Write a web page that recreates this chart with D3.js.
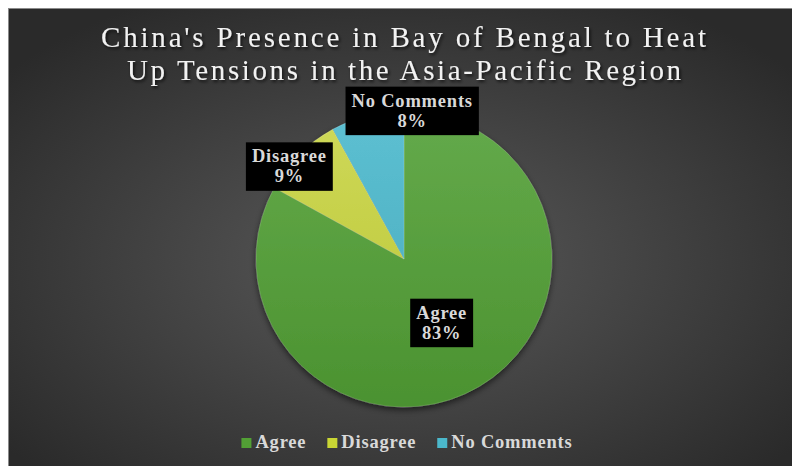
<!DOCTYPE html>
<html>
<head>
<meta charset="utf-8">
<script src="https://cdn.jsdelivr.net/npm/d3@7"></script>
<style>
  html, body { margin: 0; padding: 0; background: #ffffff; }
  svg { display: block; }
</style>
</head>
<body>
<svg id="chart" width="792" height="466"></svg>
<script>
// ---- data ----
const titleLines = ["China's Presence in Bay of Bengal to Heat", "Up Tensions in the Asia-Pacific Region"];
const categories = ["Agree", "Disagree", "No Comments"];
const values = [83, 9, 8];
const colors = ["#52a035", "#c9d634", "#4bb8cb"];
const colorsLight = ["#64aa4b", "#cfd95a", "#5dc0d2"];

const W = 792, H = 466;
const svg = d3.select("#chart");
const defs = svg.append("defs");

// background gradient
const bg = defs.append("radialGradient").attr("id", "bgGrad")
  .attr("cx", "50%").attr("cy", "55%").attr("r", "65%");
bg.append("stop").attr("offset", "0%").attr("stop-color", "#5a5a5a");
bg.append("stop").attr("offset", "100%").attr("stop-color", "#2a2a2a");

svg.append("rect").attr("x", 8.5).attr("y", 8.5).attr("width", W - 8).attr("height", H - 8)
  .attr("fill", "url(#bgGrad)").attr("stroke", "#8a8a8a").attr("stroke-width", 1);

// title with shadow
const tShadow = defs.append("filter").attr("id", "tshadow").attr("x", "-10%").attr("y", "-30%").attr("width", "120%").attr("height", "160%");
tShadow.append("feDropShadow").attr("dx", 1.5).attr("dy", 2).attr("stdDeviation", 1.5)
  .attr("flood-color", "#000").attr("flood-opacity", 0.7);

const titleSpans = [[101, 706], [127, 681]];
const titleBase = [47, 80];
svg.append("g").attr("filter", "url(#tshadow)")
  .selectAll("text").data(titleLines).join("text")
  .attr("x", (d, i) => titleSpans[i][0])
  .attr("y", (d, i) => titleBase[i])
  .attr("textLength", (d, i) => titleSpans[i][1] - titleSpans[i][0])
  .attr("lengthAdjust", "spacing")
  .attr("font-family", "'Liberation Serif', 'DejaVu Serif', serif")
  .attr("font-size", 29)
  .attr("fill", "#f2f2f2")
  .text(d => d);

// pie
const cx = 404, cy = 259, R = 148;
const pie = d3.pie().sort(null).value(d => d.value);
const arcs = pie(categories.map((c, i) => ({ name: c, value: values[i], i })));
const arc = d3.arc().innerRadius(0).outerRadius(R);

categories.forEach((c, i) => {
  const g = defs.append("linearGradient").attr("id", "sg" + i)
    .attr("gradientUnits", "userSpaceOnUse")
    .attr("x1", 0).attr("y1", -R).attr("x2", 0).attr("y2", R);
  g.append("stop").attr("offset", "0%").attr("stop-color", colorsLight[i]);
  g.append("stop").attr("offset", "100%").attr("stop-color", d3.color(colors[i]).darker(0.25));
});

const pShadow = defs.append("filter").attr("id", "pshadow").attr("x", "-20%").attr("y", "-20%").attr("width", "140%").attr("height", "140%");
pShadow.append("feDropShadow").attr("dx", 0).attr("dy", 3).attr("stdDeviation", 3)
  .attr("flood-color", "#000").attr("flood-opacity", 0.55);

const pieG = svg.append("g").attr("transform", `translate(${cx},${cy})`);
pieG.append("g").attr("filter", "url(#pshadow)")
  .selectAll("path").data(arcs).join("path")
  .attr("d", arc)
  .attr("fill", d => `url(#sg${d.data.i})`)
  .attr("stroke", "rgba(255,255,255,0.25)")
  .attr("stroke-width", 0.6);

// data labels
const labelLayout = [
  { r: 0.5, dx: 0, dy: 0 },
  { r: 1.0, dx: -10, dy: 12 },
  { r: 1.0, dx: 45, dy: -5 }
];
const lfont = "'Liberation Serif', 'DejaVu Serif', serif";
const lsize = 18.5, lspace = 0.8;
arcs.forEach((d, i) => {
  const L = labelLayout[i];
  const a = (d.startAngle + d.endAngle) / 2;
  const x = Math.sin(a) * R * L.r + L.dx;
  const y = -Math.cos(a) * R * L.r + L.dy;
  const g = pieG.append("g").attr("transform", `translate(${x},${y})`);
  const rect = g.append("rect").attr("fill", "#000");
  const t1 = g.append("text").attr("text-anchor", "middle").attr("y", -4)
    .attr("font-family", lfont).attr("font-weight", "bold").attr("font-size", lsize)
    .attr("letter-spacing", lspace)
    .attr("fill", "#d9d9d9").text(d.data.name);
  const t2 = g.append("text").attr("text-anchor", "middle").attr("y", 16)
    .attr("font-family", lfont).attr("font-weight", "bold").attr("font-size", lsize)
    .attr("letter-spacing", lspace)
    .attr("fill", "#d9d9d9").text(d.data.value + "%");
  const w = Math.max(t1.node().getComputedTextLength(), t2.node().getComputedTextLength()) + 12;
  rect.attr("x", -w / 2).attr("y", -24).attr("width", w).attr("height", 48.5);
});

// legend
const legend = svg.append("g");
let lx = 0;
categories.forEach((c, i) => {
  const g = legend.append("g");
  g.append("rect").attr("x", 0).attr("y", -10).attr("width", 10).attr("height", 10).attr("fill", colors[i]);
  const t = g.append("text").attr("x", 14).attr("y", 0)
    .attr("font-family", lfont).attr("font-weight", "bold").attr("font-size", lsize)
    .attr("letter-spacing", lspace)
    .attr("fill", "#d9d9d9").text(c);
  const w = 14 + t.node().getComputedTextLength();
  g.attr("transform", `translate(${lx},0)`);
  lx += w + 21;
});
const totalW = lx - 21;
legend.attr("transform", `translate(${407 - totalW / 2},448)`);
</script>
</body>
</html>
